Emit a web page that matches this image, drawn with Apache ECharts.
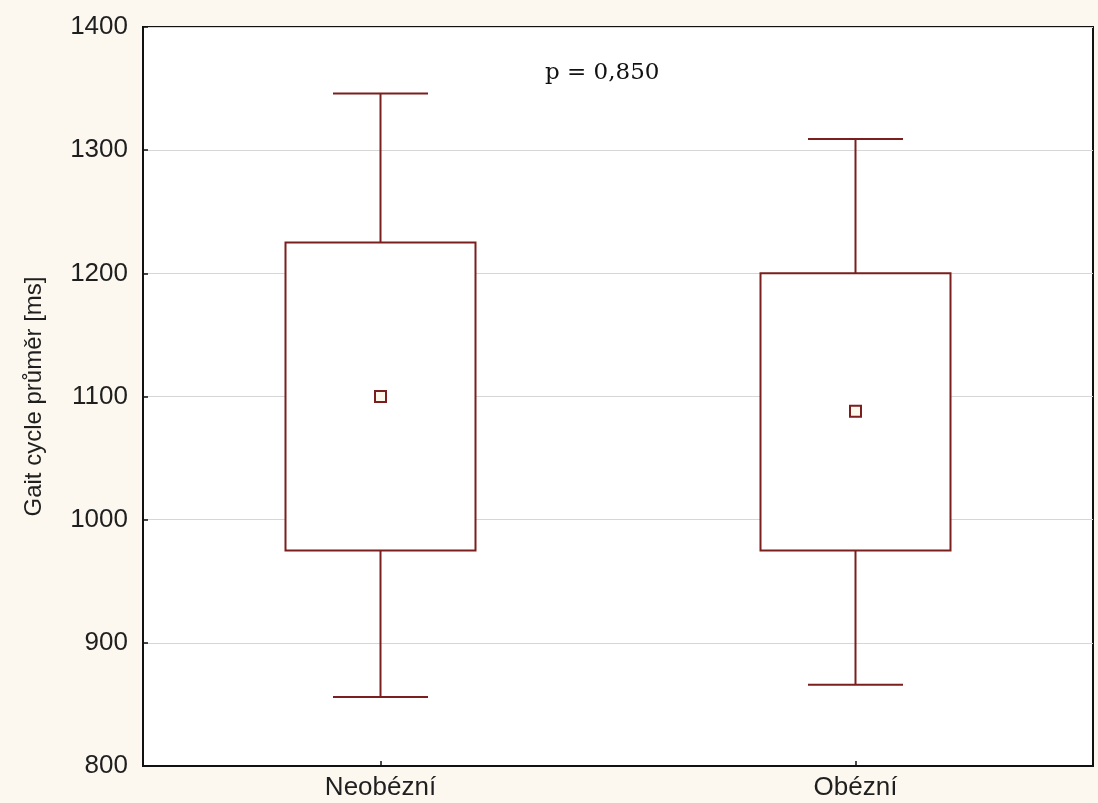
<!DOCTYPE html>
<html>
<head>
<meta charset="utf-8">
<title>Gait cycle průměr</title>
<script src="https://cdn.jsdelivr.net/npm/echarts@6/dist/echarts.min.js"></script>
<style>
  html, body { margin: 0; padding: 0; background: #fcf8ef; }
  #chart { width: 1098px; height: 803px; }
</style>
</head>
<body>
<div id="chart"></div>
<script>
// Group labels and summary values (ms) for each group
const categories = ['Neobézní', 'Obézní'];
const whiskerLow = [856, 866];
const boxLow = [975, 975];
const meanValue = [1100, 1088];
const boxHigh = [1225, 1200];
const whiskerHigh = [1346, 1309];
const yTicks = [800, 900, 1000, 1100, 1200, 1300, 1400];
const pLabel = 'p = 0,850';

const boxColor = '#7a1e1e';
const textColor = '#1f1f1f';

const seriesData = categories.map((c, i) => [i, whiskerLow[i], boxLow[i], meanValue[i], boxHigh[i], whiskerHigh[i]]);

// Box (middle range), whiskers with short caps, and a small square for the mean
function renderBox(params, api) {
  const idx = api.value(0);
  const band = api.size([1, 0])[0];
  const boxW = band * 0.4;
  const capW = band * 0.2;
  const pLow = api.coord([idx, api.value(1)]);
  const pB1 = api.coord([idx, api.value(2)]);
  const pMean = api.coord([idx, api.value(3)]);
  const pB2 = api.coord([idx, api.value(4)]);
  const pHigh = api.coord([idx, api.value(5)]);
  const x = pLow[0];
  const lineStyle = { stroke: boxColor, lineWidth: 2, fill: null };
  const m = 5.5;
  return {
    type: 'group',
    children: [
      { type: 'line', shape: { x1: x, y1: pB1[1], x2: x, y2: pLow[1] }, style: lineStyle },
      { type: 'line', shape: { x1: x - capW / 2, y1: pLow[1], x2: x + capW / 2, y2: pLow[1] }, style: lineStyle },
      { type: 'line', shape: { x1: x, y1: pB2[1], x2: x, y2: pHigh[1] }, style: lineStyle },
      { type: 'line', shape: { x1: x - capW / 2, y1: pHigh[1], x2: x + capW / 2, y2: pHigh[1] }, style: lineStyle },
      { type: 'rect', shape: { x: x - boxW / 2, y: pB2[1], width: boxW, height: pB1[1] - pB2[1] },
        style: { stroke: boxColor, lineWidth: 2, fill: '#ffffff' } },
      { type: 'rect', shape: { x: pMean[0] - m, y: pMean[1] - m, width: 2 * m, height: 2 * m },
        style: { stroke: boxColor, lineWidth: 2, fill: '#fdf7ec' } }
    ]
  };
}

const chart = echarts.init(document.getElementById('chart'));
chart.setOption({
  backgroundColor: '#fcf8ef',
  animation: false,
  grid: {
    left: 143, right: 5, top: 27, bottom: 37,
    show: true, backgroundColor: '#ffffff', borderColor: '#111111', borderWidth: 2
  },
  xAxis: {
    type: 'category',
    data: categories,
    boundaryGap: true,
    axisLine: { show: true, lineStyle: { color: '#111111', width: 2 } },
    axisTick: { show: true, inside: true, alignWithLabel: true, length: 5, lineStyle: { color: '#111111', width: 1.5 } },
    axisLabel: { fontFamily: 'Liberation Sans, Arial, sans-serif', fontSize: 26, color: textColor, margin: 9 },
    splitLine: { show: false }
  },
  yAxis: {
    type: 'value',
    min: yTicks[0],
    max: yTicks[yTicks.length - 1],
    interval: 100,
    name: 'Gait cycle průměr [ms]',
    nameLocation: 'middle',
    nameRotate: 90,
    nameGap: 97,
    nameTextStyle: { fontFamily: 'Liberation Sans, Arial, sans-serif', fontSize: 24, color: textColor },
    axisLine: { show: true, lineStyle: { color: '#111111', width: 2 } },
    axisTick: { show: true, inside: true, length: 5, lineStyle: { color: '#111111', width: 1.5 } },
    axisLabel: {
      fontFamily: 'Liberation Sans, Arial, sans-serif', fontSize: 26, color: textColor, margin: 15,
      formatter: v => String(v)
    },
    splitLine: { show: true, lineStyle: { color: '#d6d6d6', width: 1 } }
  },
  graphic: [{
    type: 'text',
    left: 545,
    top: 62,
    style: { text: pLabel, font: '23px "DejaVu Serif", serif', fill: '#111111' }
  }],
  series: [{
    type: 'custom',
    renderItem: renderBox,
    encode: { x: 0, y: [1, 2, 3, 4, 5] },
    data: seriesData
  }]
});
</script>
</body>
</html>
